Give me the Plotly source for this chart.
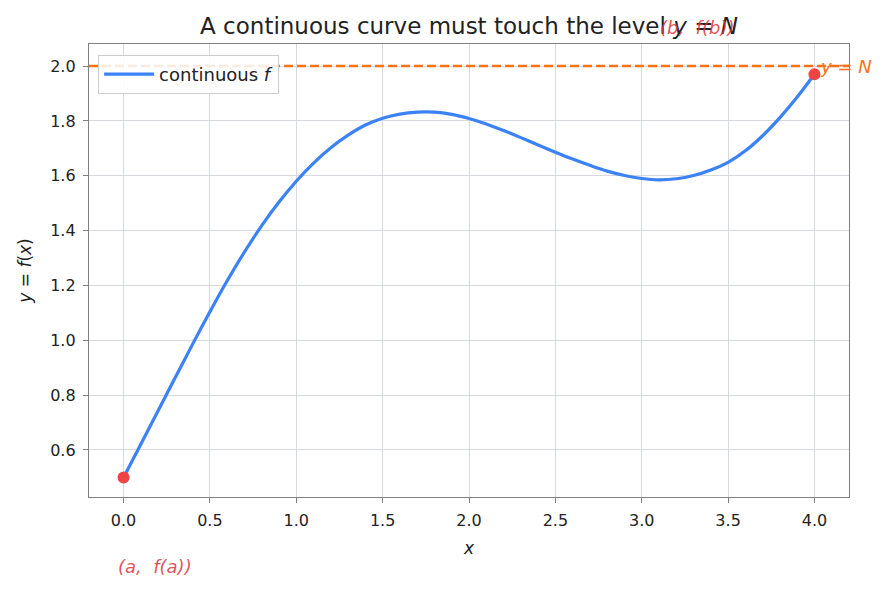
import plotly.graph_objects as go

# ---- data ----
x_vals = [0.0, 0.1, 0.2, 0.3, 0.4, 0.5, 0.6, 0.7, 0.8, 0.9, 1.0,
          1.1, 1.2, 1.3, 1.4, 1.5, 1.6, 1.7, 1.8, 1.9, 2.0,
          2.1, 2.2, 2.3, 2.4, 2.5, 2.6, 2.7, 2.8, 2.9, 3.0,
          3.1, 3.2, 3.3, 3.4, 3.5, 3.6, 3.7, 3.8, 3.9, 4.0]
y_vals = [0.500, 0.621, 0.743, 0.865, 0.986, 1.104, 1.217, 1.322, 1.418, 1.504, 1.580,
          1.646, 1.702, 1.748, 1.785, 1.810, 1.825, 1.832, 1.832, 1.824, 1.809,
          1.789, 1.765, 1.739, 1.712, 1.686, 1.661, 1.638, 1.617, 1.601, 1.590,
          1.585, 1.589, 1.601, 1.621, 1.649, 1.691, 1.746, 1.812, 1.887, 1.970]
endpoints_x = [0.0, 4.0]
endpoints_y = [0.50, 1.97]
level_N = 2.0
x_range = [-0.2, 4.2]
y_range = [0.4285, 2.0805]
x_ticks = [0.0, 0.5, 1.0, 1.5, 2.0, 2.5, 3.0, 3.5, 4.0]
y_ticks = [0.6, 0.8, 1.0, 1.2, 1.4, 1.6, 1.8, 2.0]

BLUE = "#3b82f6"
ORANGE = "#f97316"
RED = "#ef4444"
LABEL_RED = "rgba(220,50,60,0.85)"
FONT = "DejaVu Sans"
TXT = "#222222"

fig = go.Figure()

fig.add_trace(go.Scatter(
    x=x_range, y=[level_N, level_N], mode="lines",
    line=dict(color=ORANGE, width=2.5, dash="9px,4px"),
    showlegend=False, hoverinfo="skip"))

fig.add_trace(go.Scatter(
    x=x_vals, y=y_vals, mode="lines",
    line=dict(color=BLUE, width=3.2, shape="spline", smoothing=1.0),
    name="continuous <i>f</i>"))

fig.add_trace(go.Scatter(
    x=endpoints_x, y=endpoints_y, mode="markers",
    marker=dict(color=RED, size=12),
    showlegend=False, cliponaxis=False))

fig.add_annotation(x=4.02, y=level_N, xref="x", yref="y",
                   text="<i>y</i> = <i>N</i>", showarrow=False,
                   xanchor="left", yanchor="middle",
                   font=dict(family=FONT, size=18, color=ORANGE))
fig.add_annotation(x=3.32, y=1.0375, xref="x", yref="paper",
                   text="<i>(b,  f(b))</i>", showarrow=False,
                   xanchor="center", yanchor="middle",
                   font=dict(family=FONT, size=18, color=LABEL_RED))
fig.add_annotation(x=0.18, y=-0.1545, xref="x", yref="paper",
                   text="<i>(a,  f(a))</i>", showarrow=False,
                   xanchor="center", yanchor="middle",
                   font=dict(family=FONT, size=18, color=LABEL_RED))

axis_common = dict(
    showline=True, mirror=True, linecolor="#808080", linewidth=1.3,
    ticks="outside", ticklen=5, tickcolor="#808080", tickwidth=1.2,
    ticklabelstandoff=4,
    showgrid=True, gridcolor="#d6d9de", gridwidth=0.8,
    zeroline=False,
    tickfont=dict(family=FONT, size=16, color=TXT),
)

fig.update_xaxes(range=x_range, tickvals=x_ticks, tickformat=".1f",
                 title=dict(text="<i>x</i>", standoff=12,
                            font=dict(family=FONT, size=17, color=TXT)),
                 **axis_common)
fig.update_yaxes(range=y_range, tickvals=y_ticks, tickformat=".1f",
                 title=dict(text="<i>y</i> = <i>f</i>(<i>x</i>)", standoff=14,
                            font=dict(family=FONT, size=17, color=TXT)),
                 **axis_common)

fig.update_layout(
    width=888, height=592,
    margin=dict(l=89, r=39, t=44, b=95),
    paper_bgcolor="white", plot_bgcolor="white",
    font=dict(family=FONT, color=TXT),
    title=dict(text="A continuous curve must touch the level <i>y</i> = <i>N</i>",
               x=0.5, xref="paper", xanchor="center",
               y=1 - 26 / 592, yref="container", yanchor="middle",
               font=dict(family=FONT, size=23, color=TXT)),
    legend=dict(x=0.012, y=0.976, xanchor="left", yanchor="top",
                itemwidth=50,
                bgcolor="rgba(255,255,255,0.85)", bordercolor="#cccccc",
                borderwidth=1, font=dict(family=FONT, size=18, color=TXT)),
    showlegend=True,
)

fig.write_html("out.html")
